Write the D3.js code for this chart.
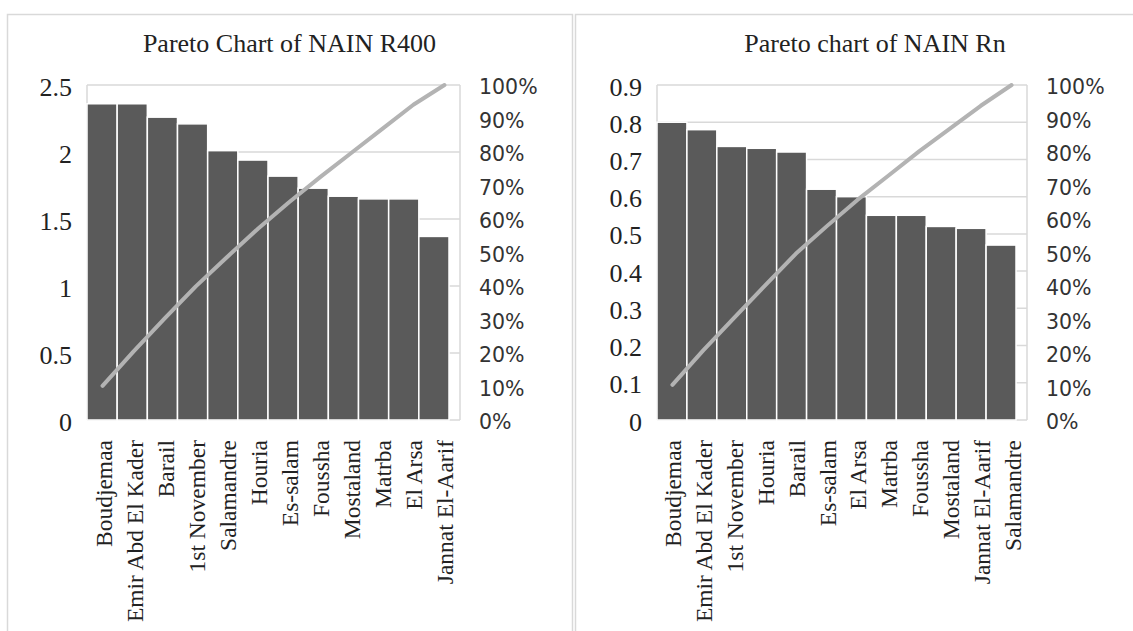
<!DOCTYPE html>
<head>
    <title>Pareto charts NAIN</title>
    <script src="https://cdn.jsdelivr.net/npm/d3@7"></script>
    <style>
        body { margin: 0; background: #fff; }
    </style>
</head>
<body>
<div id="container"></div>

<script>

// Données
const catsR400 = ["Boudjemaa", "Emir Abd El Kader", "Barail", "1st November", "Salamandre", "Houria",
                  "Es-salam", "Foussha", "Mostaland", "Matrba", "El Arsa", "Jannat El-Aarif"];
const valsR400 = [2.36, 2.36, 2.26, 2.21, 2.01, 1.94, 1.82, 1.73, 1.67, 1.65, 1.65, 1.37];
const cumR400  = [10.2, 20.5, 30.3, 39.9, 48.6, 57.1, 65.0, 72.5, 79.7, 86.9, 94.1, 100];
const ticksR400 = [0, 0.5, 1, 1.5, 2, 2.5];

const catsRn = ["Boudjemaa", "Emir Abd El Kader", "1st November", "Houria", "Barail", "Es-salam",
                "El Arsa", "Matrba", "Foussha", "Mostaland", "Jannat El-Aarif", "Salamandre"];
const valsRn = [0.80, 0.78, 0.735, 0.73, 0.72, 0.62, 0.60, 0.55, 0.55, 0.52, 0.515, 0.47];
const cumRn  = [10.5, 20.8, 30.5, 40.1, 49.6, 57.8, 65.7, 72.9, 80.2, 87.0, 93.8, 100];
const ticksRn = [0, 0.1, 0.2, 0.3, 0.4, 0.5, 0.6, 0.7, 0.8, 0.9];

const pctTicks = [0, 10, 20, 30, 40, 50, 60, 70, 80, 90, 100];

// Dimensions
const width = 1133;
const height = 631;
const serif = "'Liberation Serif', 'Times New Roman', serif";
const sans = "'DejaVu Sans', Tahoma, sans-serif";
const gridColor = "#d9d9d9";

const svg = d3.create("svg")
              .attr("width", width)
              .attr("height", height)
              .style("display", "block");

function drawPareto(opts) {
    const g = svg.append("g");

    // Cadre du graphique
    g.append("rect")
     .attr("x", opts.boxX + 0.5).attr("y", 14.5)
     .attr("width", opts.boxW).attr("height", 700)
     .attr("fill", "none")
     .attr("stroke", gridColor)
     .attr("stroke-width", 1.5);

    // Titre
    g.append("text")
     .attr("x", opts.boxX + opts.boxW / 2)
     .attr("y", 52)
     .attr("text-anchor", "middle")
     .style("font-family", serif)
     .style("font-size", "26px")
     .style("fill", "#222")
     .text(opts.title);

    const top = 85, bottom = 420;
    const y = d3.scaleLinear().domain([0, opts.max]).range([bottom, top]);
    const yPct = d3.scaleLinear().domain([0, 100]).range([bottom, top]);

    // barres un peu plus courtes que la zone de tracé, comme sur l'original
    const xBar = d3.scaleBand().domain(opts.cats)
                   .range([opts.left, opts.right - 11]).padding(0);
    const xPt = d3.scalePoint().domain(opts.cats)
                  .range([opts.left, opts.right]).padding(0.5);

    // Grille
    g.selectAll(".grid")
     .data(opts.ticks)
     .enter().append("line")
     .attr("x1", opts.left).attr("x2", opts.right)
     .attr("y1", d => y(d)).attr("y2", d => y(d))
     .attr("stroke", gridColor)
     .attr("stroke-width", 1.5);

    g.append("line")
     .attr("x1", opts.left).attr("x2", opts.left)
     .attr("y1", top).attr("y2", bottom)
     .attr("stroke", gridColor).attr("stroke-width", 1.5);
    g.append("line")
     .attr("x1", opts.right).attr("x2", opts.right)
     .attr("y1", top).attr("y2", bottom)
     .attr("stroke", gridColor).attr("stroke-width", 1.5);

    // Barres
    g.selectAll(".bar")
     .data(opts.vals)
     .enter().append("rect")
     .attr("x", (d, i) => xBar(opts.cats[i]))
     .attr("y", d => y(d))
     .attr("width", xBar.bandwidth())
     .attr("height", d => bottom - y(d))
     .attr("fill", "#5a5a5a")
     .attr("stroke", "#fff")
     .attr("stroke-width", 1.5);

    // Courbe cumulée
    const line = d3.line()
                   .x((d, i) => xPt(opts.cats[i]))
                   .y(d => yPct(d));
    g.append("path")
     .datum(opts.cum)
     .attr("d", line)
     .attr("fill", "none")
     .attr("stroke", "#b3b3b3")
     .attr("stroke-width", 4)
     .attr("stroke-linecap", "round")
     .attr("stroke-linejoin", "round");

    // Axe gauche
    g.selectAll(".ytick")
     .data(opts.ticks)
     .enter().append("text")
     .attr("x", opts.left - 15)
     .attr("y", d => y(d) + 2)
     .attr("text-anchor", "end")
     .attr("dominant-baseline", "central")
     .style("font-family", serif)
     .style("font-size", "26px")
     .style("fill", "#222")
     .text(d => d);

    // Axe droit (pourcentages)
    g.selectAll(".ptick")
     .data(pctTicks)
     .enter().append("text")
     .attr("x", opts.right + 19)
     .attr("y", d => yPct(d) + 2)
     .attr("dominant-baseline", "central")
     .style("font-family", sans)
     .style("font-size", "20.5px")
     .style("fill", "#333")
     .text(d => d + "%");

    // Étiquettes des catégories
    g.selectAll(".xlab")
     .data(opts.cats)
     .enter().append("text")
     .attr("transform", d => `translate(${xPt(d) + 1},440) rotate(-90)`)
     .attr("text-anchor", "end")
     .attr("dominant-baseline", "central")
     .style("font-family", serif)
     .style("font-size", "23.5px")
     .style("fill", "#222")
     .text(d => d);
}

drawPareto({
    title: "Pareto Chart of NAIN R400",
    boxX: 7, boxW: 565,
    left: 87, right: 460,
    max: 2.5, ticks: ticksR400,
    cats: catsR400, vals: valsR400, cum: cumR400
});

drawPareto({
    title: "Pareto chart of NAIN Rn",
    boxX: 575, boxW: 600,
    left: 657, right: 1027,
    max: 0.9, ticks: ticksRn,
    cats: catsRn, vals: valsRn, cum: cumRn
});

container.append(svg.node());

</script>
</body>
